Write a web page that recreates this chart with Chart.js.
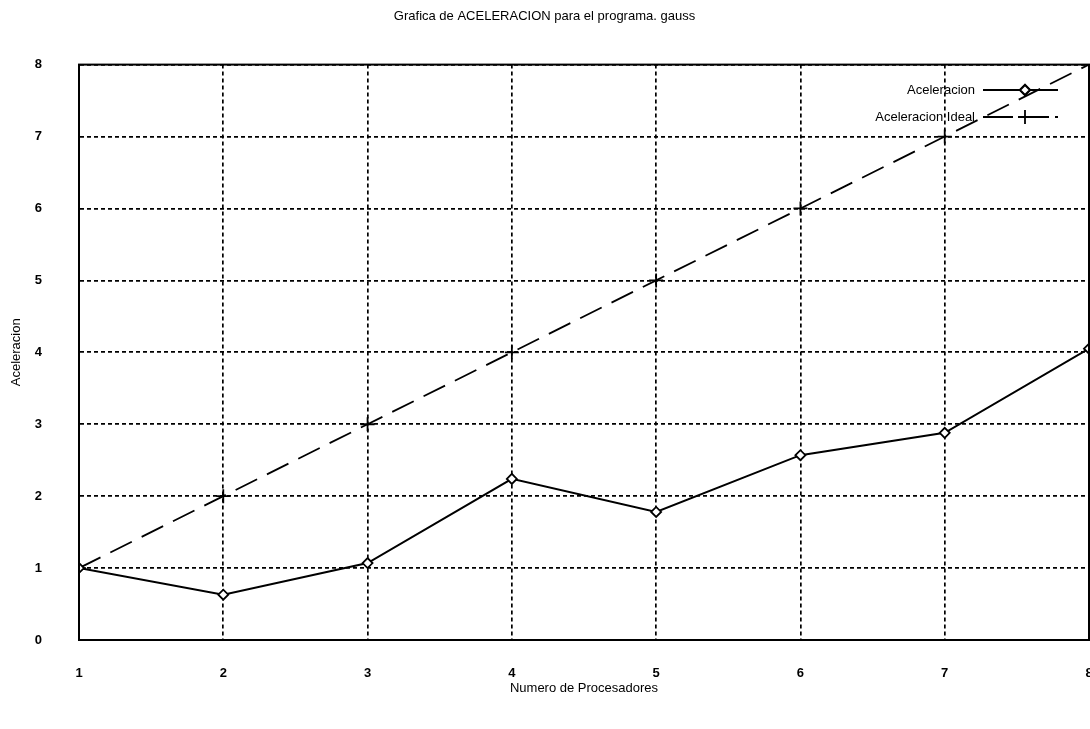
<!DOCTYPE html>
<html lang="es">
<head>
  <meta charset="UTF-8" />
  <title>Grafica de ACELERACION</title>
  <script src="https://cdn.jsdelivr.net/npm/chart.js"></script>
  <style>
    body { margin: 0; background: #fff; }
    canvas { display: block; }
  </style>
</head>
<body>
  <canvas id="grafica" width="1090" height="729"></canvas>

  <script>
    // numero de procesadores y aceleraciones medidas
    const procesadores = [1, 2, 3, 4, 5, 6, 7, 8];
    const aceleracion = [1, 0.63, 1.07, 2.24, 1.78, 2.57, 2.88, 4.05];
    const aceleracionIdeal = [1, 2, 3, 4, 5, 6, 7, 8];
    const nombres = ["Aceleracion", "Aceleracion Ideal"];

    const puntos = (ys) => procesadores.map((x, i) => ({ x: x, y: ys[i] }));

    // marco completo y leyenda dentro del area (estilo gnuplot)
    const marcoLeyenda = {
      id: "marcoLeyenda",
      afterDatasetsDraw(chart) {
        const ctx = chart.ctx;
        const a = chart.chartArea;
        ctx.save();
        ctx.strokeStyle = "#000";
        ctx.lineWidth = 2;
        ctx.setLineDash([]);
        ctx.strokeRect(a.left, a.top, a.right - a.left, a.bottom - a.top);

        ctx.font = "13px 'Liberation Sans', Arial, sans-serif";
        ctx.fillStyle = "#000";
        ctx.textAlign = "right";
        ctx.textBaseline = "middle";
        chart.data.datasets.forEach((ds, i) => {
          const y = 90 + i * 27;
          ctx.fillText(ds.label, 975, y);
          ctx.lineWidth = ds.borderWidth;
          ctx.setLineDash(ds.borderDash ? [30, 6] : []);
          ctx.beginPath();
          ctx.moveTo(983, y);
          ctx.lineTo(1058, y);
          ctx.stroke();
          ctx.setLineDash([]);
          Chart.helpers.drawPoint(ctx, {
            pointStyle: ds.pointStyle,
            radius: ds.pointRadius,
            rotation: 0,
            borderWidth: ds.pointBorderWidth
          }, 1025, y);
          if (ds.pointStyle === "rectRot") {
            ctx.fillStyle = "#fff";
            ctx.fill();
            ctx.stroke();
            ctx.fillStyle = "#000";
          }
        });
        ctx.restore();
      }
    };

    const fuenteTicks = { family: "'Liberation Sans', Arial, sans-serif", size: 13, weight: "bold" };
    const fuenteTexto = { family: "'Liberation Sans', Arial, sans-serif", size: 13, weight: "normal" };

    new Chart(document.getElementById("grafica"), {
      type: "line",
      data: {
        datasets: [
          {
            label: nombres[0],
            data: puntos(aceleracion),
            borderColor: "#000",
            borderWidth: 2,
            pointStyle: "rectRot",
            pointRadius: 5,
            pointBorderWidth: 1.8,
            pointBackgroundColor: "#fff",
            pointBorderColor: "#000",
            tension: 0
          },
          {
            label: nombres[1],
            data: puntos(aceleracionIdeal),
            borderColor: "#000",
            borderWidth: 1.8,
            borderDash: [24, 11],
            pointStyle: "cross",
            pointRadius: 7,
            pointBorderWidth: 1.8,
            pointBorderColor: "#000",
            tension: 0
          }
        ]
      },
      options: {
        responsive: false,
        animation: false,
        layout: { autoPadding: false, padding: { left: 0, right: 1, top: 0, bottom: 0 } },
        plugins: {
          legend: { display: false },
          tooltip: { enabled: false },
          title: {
            display: true,
            text: "Grafica de ACELERACION para el programa. gauss",
            color: "#000",
            font: fuenteTexto,
            padding: { top: 9, bottom: 40 }
          }
        },
        scales: {
          x: {
            type: "linear",
            min: 1,
            max: 8,
            afterFit: (s) => { s.height = 89; s.paddingRight = 0; s.paddingLeft = 0; },
            ticks: { stepSize: 1, color: "#000", font: fuenteTicks, padding: 26 },
            grid: { color: "#000", lineWidth: 1.7, drawTicks: false },
            border: { display: true, color: "#000", width: 2, dash: [4, 3] },
            title: {
              display: true,
              text: "Numero de Procesadores",
              color: "#000",
              font: fuenteTexto,
              padding: { top: 0, bottom: 33 }
            }
          },
          y: {
            min: 0,
            max: 8,
            afterFit: (s) => { s.width = 79; s.paddingTop = 0; s.paddingBottom = 0; },
            ticks: { stepSize: 1, color: "#000", font: fuenteTicks, padding: 37 },
            grid: { color: "#000", lineWidth: 1.7, drawTicks: false },
            border: { display: true, color: "#000", width: 2, dash: [4, 3] },
            title: {
              display: true,
              text: "Aceleracion",
              color: "#000",
              font: fuenteTexto,
              padding: { top: 9, bottom: 0 }
            }
          }
        }
      },
      plugins: [marcoLeyenda]
    });
  </script>
</body>
</html>
